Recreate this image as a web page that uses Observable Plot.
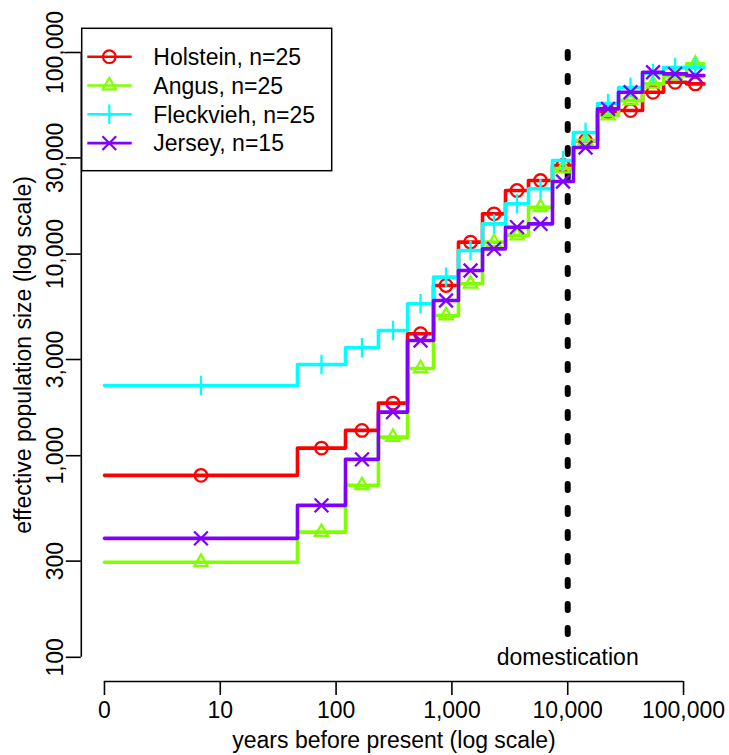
<!DOCTYPE html>
<html><head><meta charset="utf-8">
<script src="https://cdn.jsdelivr.net/npm/d3@7"></script>
<script src="https://cdn.jsdelivr.net/npm/@observablehq/plot@0.6"></script>
<style>
html,body{margin:0;padding:0;background:#fff;}
#wrap{position:relative;width:729px;height:755px;font-family:"Liberation Sans",Arial,Helvetica,sans-serif;}
</style></head><body><div id="wrap"></div>
<script>
// ---- data ----
const breeds = ["Holstein, n=25", "Angus, n=25", "Fleckvieh, n=25", "Jersey, n=15"];
const colors = ["#FF0000", "#80FF00", "#00FFFF", "#8000FF"];
const symbols = ["circle", "triangle2", "plus", "times"];
// step boundaries, years before present
const boundaries = [1, 46.4, 120.6, 232, 414, 694, 1140, 1838, 2903, 4586, 7391, 11220, 18090, 27460, 44250, 67200, 106200, 150300];
// effective population size per interval
const holstein  = [799, 1091, 1335, 1823, 4026, 6988, 11460, 15840, 20670, 23170, 27500, 36500, 50930, 51520, 63490, 71170, 69870];
const angus     = [296, 418, 713, 1237, 2709, 4962, 7125, 11460, 12370, 17080, 26570, 36580, 48660, 57730, 69870, 76820, 87800];
const fleckvieh = [2231, 2836, 3431, 4181, 5670, 7685, 10420, 14130, 17760, 21080, 29120, 40090, 55820, 66990, 78620, 84170, 84170];
const jersey    = [389, 567, 959, 1645, 3729, 5888, 8291, 10620, 13600, 14130, 22910, 33770, 52530, 63490, 79770, 78320, 76820];
const seriesValues = [holstein, angus, fleckvieh, jersey];

const xTickValues = [1, 10, 100, 1000, 10000, 100000];
const xTickLabels = ["0", "10", "100", "1,000", "10,000", "100,000"];
const yTickValues = [100, 300, 1000, 3000, 10000, 30000, 100000];
const yTickLabels = ["100", "300", "1,000", "3,000", "10,000", "30,000", "100,000"];
const domesticationYears = 10000;
const domesticationSpan = [100000, 120];
const domesticationLabelNe = 100;
const domesticationLabel = "domestication";
const xTitle = "years before present (log scale)";
const yTitle = "effective population size (log scale)";

// ---- build tables ----
const xDomain = [Math.pow(10, -0.2), Math.pow(10, 5.2)];
const yDomain = [Math.pow(10, 1.88), Math.pow(10, 5.12)];
const FONT = "'Liberation Sans', Arial, Helvetica, sans-serif";

const seriesMarks = [];
breeds.forEach((b, s) => {
  const v = seriesValues[s];
  const steps = v.map((ne, k) => ({t: boundaries[k], ne}));
  steps.push({t: boundaries[boundaries.length - 1], ne: v[v.length - 1]});
  const pts = v.map((ne, k) => ({t: Math.sqrt(boundaries[k] * boundaries[k + 1]), ne}));
  seriesMarks.push(Plot.line(steps, {x: "t", y: "ne", stroke: colors[s], strokeWidth: 3.6, curve: "step-after"}));
  seriesMarks.push(Plot.dot(pts, {x: "t", y: "ne", stroke: colors[s], symbol: symbols[s], r: 6.3, strokeWidth: 2.3, fill: "none"}));
});

const plot = Plot.plot({
  width: 729, height: 755,
  marginLeft: 80.8, marginRight: 22.8, marginTop: 27.8, marginBottom: 74,
  x: {type: "log", domain: xDomain},
  y: {type: "log", domain: yDomain},
  style: {fontFamily: FONT, fontSize: "23px", background: "white", color: "black", overflow: "visible"},
  marks: [
    // axis lines
    Plot.ruleY([{y: yDomain[0], x1: xTickValues[0], x2: xTickValues[xTickValues.length - 1]}], {y: "y", x1: "x1", x2: "x2", stroke: "black", strokeWidth: 1.6}),
    Plot.ruleX([{x: xDomain[0], y1: yTickValues[0], y2: yTickValues[yTickValues.length - 1]}], {x: "x", y1: "y1", y2: "y2", stroke: "black", strokeWidth: 1.6}),
    Plot.axisX(xTickValues, {tickSize: 14, tickPadding: 6, tickFormat: d => xTickLabels[xTickValues.indexOf(d)], fontSize: 23, label: null, strokeWidth: 1.6}),
    Plot.axisY(yTickValues, {tickSize: 15, tickPadding: 3, tickRotate: -90, tickFormat: d => yTickLabels[yTickValues.indexOf(d)], fontSize: 23, label: null, strokeWidth: 1.6}),
    Plot.text([xTitle], {frameAnchor: "bottom", dy: 66, lineAnchor: "bottom", textAnchor: "middle", fontSize: 23, text: d => d}),
    Plot.text([yTitle], {frameAnchor: "left", dx: -50, rotate: -90, lineAnchor: "bottom", textAnchor: "middle", fontSize: 23, text: d => d}),
    // domestication
    Plot.ruleX([{x: domesticationYears, y1: domesticationSpan[0], y2: domesticationSpan[1]}], {x: "x", y1: "y1", y2: "y2", stroke: "black", strokeWidth: 6, strokeDasharray: "6,18", strokeLinecap: "round"}),
    Plot.text([{x: domesticationYears, y: domesticationLabelNe, label: domesticationLabel}], {x: "x", y: "y", text: "label", fontSize: 23, lineAnchor: "middle"}),
    ...seriesMarks
  ]
});
const wrap = document.getElementById("wrap");
wrap.appendChild(plot);

// ---- legend (overlay) ----
const symFns = {circle: d3.symbolCircle, triangle2: d3.symbolTriangle2, plus: d3.symbolPlus, times: d3.symbolX};
const leg = d3.select(wrap).append("svg")
  .attr("width", 729).attr("height", 755)
  .style("position", "absolute").style("left", "0px").style("top", "0px")
  .style("font-family", FONT);
const box = {x: 81.7, y: 28.3, w: 250, h: 142.4};
leg.append("rect").attr("x", box.x).attr("y", box.y).attr("width", box.w).attr("height", box.h)
  .attr("fill", "white").attr("stroke", "black").attr("stroke-width", 1.5);
breeds.forEach((b, i) => {
  const cy = box.y + 28.4 + i * 28.8;
  const g = leg.append("g");
  g.append("line").attr("x1", box.x + 5.6).attr("x2", box.x + 50).attr("y1", cy).attr("y2", cy)
    .attr("stroke", colors[i]).attr("stroke-width", 2.6);
  g.append("path").attr("d", d3.symbol(symFns[symbols[i]], Math.PI * 6.3 * 6.3)())
    .attr("transform", `translate(${box.x + 27.6},${cy})`)
    .attr("fill", "none").attr("stroke", colors[i]).attr("stroke-width", 2.2);
  g.append("text").attr("x", box.x + 71.6).attr("y", cy + 8.3).attr("font-size", 23).attr("fill", "black").text(b);
});
</script></body></html>
